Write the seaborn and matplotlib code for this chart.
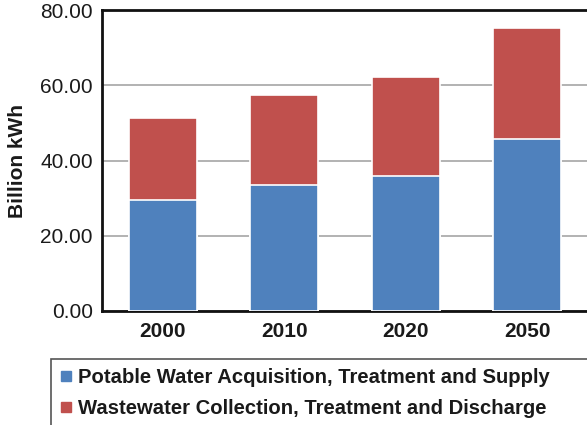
import matplotlib
matplotlib.use("Agg")
import matplotlib.pyplot as plt
from matplotlib.patches import Rectangle
from matplotlib.lines import Line2D
import seaborn as sns
import pandas as pd

years = ["2000", "2010", "2020", "2050"]
potable = [29.5, 33.4, 35.8, 45.7]
wastewater = [21.9, 24.0, 26.3, 29.4]
series_names = [
    "Potable Water Acquisition, Treatment and Supply",
    "Wastewater Collection, Treatment and Discharge",
]
y_ticks = [0, 20, 40, 60, 80]

blue = "#4F81BD"
red = "#C0504D"

sns.set_theme(style="white")
plt.rcParams["font.family"] = ["Liberation Sans", "DejaVu Sans"]

df = pd.DataFrame({"year": years, "potable": potable, "wastewater": wastewater})
df["total"] = df["potable"] + df["wastewater"]

W, H = 587, 425
fig = plt.figure(figsize=(W / 100, H / 100), dpi=100)
ax = fig.add_axes([102 / W, 1 - 311 / H, 486 / W, 301 / H])

# stacked bars: the full height in red, the potable share on top in blue
sns.barplot(data=df, x="year", y="total", color=red, width=0.56, saturation=1,
            edgecolor="white", linewidth=1.2, ax=ax, zorder=3)
sns.barplot(data=df, x="year", y="potable", color=blue, width=0.56, saturation=1,
            edgecolor="white", linewidth=1.2, ax=ax, zorder=4)

ax.set_xlim(-0.5, 3.5)
ax.set_ylim(0, 80)
ax.set_yticks(y_ticks)
ax.set_yticklabels([f"{v:.2f}" for v in y_ticks])
ax.yaxis.grid(True, color="#ADADAD", linewidth=1.3, zorder=0)
ax.set_axisbelow(True)
ax.set_xlabel("")
ax.set_ylabel("")

for side in ["left", "bottom", "top"]:
    ax.spines[side].set_color("#111111")
    ax.spines[side].set_linewidth(2)
ax.spines["right"].set_visible(False)

ax.tick_params(axis="y", length=0, pad=6.5, labelsize=15, labelcolor="#1a1a1a")
ax.tick_params(axis="x", length=0, pad=8, labelsize=15, labelcolor="#1a1a1a")
for lbl in ax.get_xticklabels():
    lbl.set_fontweight("bold")

fig.text(18 / W, 1 - 160.5 / H, "Billion kWh", rotation=90, ha="center",
         va="center", fontsize=15, fontweight="bold", color="#1a1a1a")

# legend box running off the lower right edge
fig.patches.append(Rectangle((51 / W, -0.1), 1.2, (1 - 359 / H) + 0.1,
                             transform=fig.transFigure, fill=False,
                             edgecolor="#555555", linewidth=1.2))
handles = [
    Line2D([], [], linestyle="none", marker="s", markersize=6.5,
           markerfacecolor=blue, markeredgecolor=blue),
    Line2D([], [], linestyle="none", marker="s", markersize=6.5,
           markerfacecolor=red, markeredgecolor=red),
]
leg = fig.legend(handles, series_names, loc="upper left",
                 bbox_to_anchor=(59 / W, 1 - 368 / H), frameon=False,
                 handlelength=0.7, handletextpad=0.22, labelspacing=0.58,
                 borderpad=0, borderaxespad=0,
                 prop={"size": 14.6, "weight": "bold"})
for t in leg.get_texts():
    t.set_color("#1a1a1a")

fig.savefig("out.png", dpi=100)
